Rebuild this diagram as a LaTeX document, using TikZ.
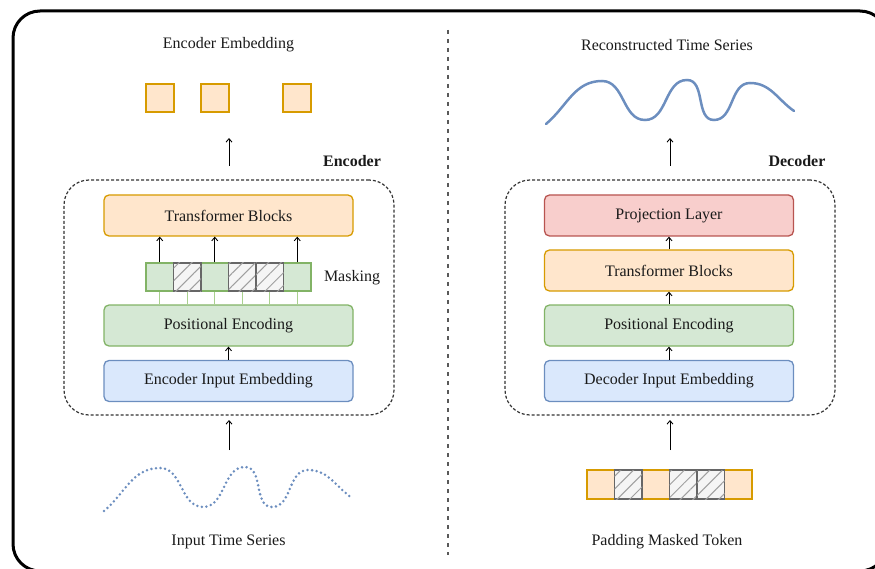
\documentclass[tikz,border=0pt]{standalone}
\usepackage{fontspec}
\setmainfont{Liberation Serif}
\usetikzlibrary{arrows.meta,patterns.meta}
\definecolor{orF}{HTML}{FFE6CC}\definecolor{orD}{HTML}{D79B00}
\definecolor{grF}{HTML}{D5E8D4}\definecolor{grD}{HTML}{82B366}
\definecolor{blF}{HTML}{DAE8FC}\definecolor{blD}{HTML}{6C8EBF}
\definecolor{rdF}{HTML}{F8CECC}\definecolor{rdD}{HTML}{B85450}
\definecolor{hcF}{HTML}{F5F5F5}\definecolor{hcD}{HTML}{666666}
\definecolor{txt}{HTML}{1A1A1A}
\definecolor{glight}{HTML}{A9D18E}
\begin{document}
\begin{tikzpicture}[x=1pt,y=1pt,
  every node/.append style={font=\fontsize{16}{19}\selectfont, text=txt},
  layerbox/.style={rounded corners=5pt, line width=1.3pt, minimum width=249pt, minimum height=41pt, inner sep=0pt},
  orbox/.style={layerbox, draw=orD, fill=orF},
  grbox/.style={layerbox, draw=grD, fill=grF},
  blbox/.style={layerbox, draw=blD, fill=blF},
  rdbox/.style={layerbox, draw=rdD, fill=rdF},
  cellbase/.style={minimum width=27.5pt, minimum height=28pt, inner sep=0pt, line width=1.3pt},
  gcell/.style={cellbase, draw=grD, fill=grF},
  ocell/.style={cellbase, draw=orD, fill=orF},
  hcell/.style={cellbase, draw=hcD, fill=hcF, postaction={pattern={Lines[angle=45,distance=9pt,line width=1pt]}, pattern color=gray!75}},
  sq/.style={draw=orD, fill=orF, line width=1.3pt, minimum width=28pt, minimum height=28pt, inner sep=0pt},
  groupbox/.style={draw=black!80, dash pattern=on 3pt off 2pt, line width=1.2pt, rounded corners=25pt, minimum width=330pt, minimum height=235pt, inner sep=0pt},
  arr/.style={draw=black, line width=0.9pt, -{Straight Barb[length=3.5pt,width=6pt]}},
  gline/.style={draw=glight, line width=1pt},
  title/.style={inner sep=0pt},
  wavesolid/.style={draw=blD, line width=2.5pt, line cap=round},
  wavedot/.style={draw=blD, line width=2.8pt, line cap=round, dash pattern=on 0pt off 4.6pt}
]
\useasboundingbox (0,0) rectangle (875,-569);
% outer frame
\draw[line width=3pt, rounded corners=27pt] (13,-11) rectangle (887,-571);
% divider
\draw[draw=black!65, line width=2pt, dash pattern=on 4pt off 5pt] (448,-30) -- (448,-555);

%%%%% ENCODER (left)
\node[title] (encemb) at (228.5,-45) {Encoder Embedding};
\node[sq] (s1) at (160,-98) {};
\node[sq] (s2) at (215,-98) {};
\node[sq] (s3) at (297,-98) {};
\node[groupbox] (encbox) at (229,-297.5) {};
\node[title, font=\fontsize{16}{19}\selectfont\bfseries] (enclbl) at (352,-161) {Encoder};
\node[orbox] (tbL) at (228.5,-215.5) {Transformer Blocks};
\node[grbox] (peL) at (228.5,-325.5) {Positional Encoding};
\node[blbox] (eieL) at (228.5,-381) {Encoder Input Embedding};
% masking strip
\node[gcell] (m1) at (159.75,-277) {};
\node[gcell] (m3) at (214.75,-277) {};
\node[gcell] (m6) at (297.25,-277) {};
\node[hcell] (m2) at (187.25,-277) {};
\node[hcell] (m4) at (242.25,-277) {};
\node[hcell] (m5) at (269.75,-277) {};
\node[title] (masklbl) at (352,-278) {Masking};
\foreach \c in {m1,m2,m3,m4,m5,m6}{\draw[gline] (\c.south) -- (\c.south |- peL.north);}
\foreach \c in {m1,m3,m6}{\draw[arr] (\c.north) -- (\c.north |- tbL.south);}
\draw[arr] (eieL.north) -- (peL.south);
\coordinate (encout) at (229,-166);
\coordinate (embin) at (229,-138);
\draw[arr] (encout) -- (embin);
\coordinate (tsout) at (229,-450);
\coordinate (encin) at (229,-420);
\draw[arr] (tsout) -- (encin);
\draw[wavedot] (104,-511) to[out=40,in=180] (160,-468) to[out=0,in=180] (203,-507) to[out=0,in=180] (245,-467) to[out=0,in=180] (272,-507) to[out=0,in=180] (308,-470) to[out=0,in=145] (352,-498);
\node[title] (inlbl) at (228.5,-542) {Input Time Series};

%%%%% DECODER (right)
\node[title] (reclbl) at (667,-45) {Reconstructed Time Series};
\begin{scope}[shift={(442,387)}]
\draw[wavesolid] (104,-511) to[out=40,in=180] (160,-468) to[out=0,in=180] (203,-507) to[out=0,in=180] (245,-467) to[out=0,in=180] (272,-507) to[out=0,in=180] (308,-470) to[out=0,in=145] (352,-498);
\end{scope}
\node[groupbox] (decbox) at (670,-297.5) {};
\node[title, font=\fontsize{16}{19}\selectfont\bfseries] (declbl) at (797,-161) {Decoder};
\node[rdbox] (plR) at (669,-215.5) {Projection Layer};
\node[orbox] (tbR) at (669,-270.5) {Transformer Blocks};
\node[grbox] (peR) at (669,-325.5) {Positional Encoding};
\node[blbox] (dieR) at (669,-381) {Decoder Input Embedding};
\draw[arr] (dieR.north) -- (peR.south);
\draw[arr] (peR.north) -- (tbR.south);
\draw[arr] (tbR.north) -- (plR.south);
\coordinate (decout) at (670,-166);
\coordinate (recin) at (670,-138);
\draw[arr] (decout) -- (recin);
\coordinate (padout) at (670,-450);
\coordinate (decin) at (670,-420);
\draw[arr] (padout) -- (decin);
% padding strip
\node[ocell, minimum height=29pt] (p1) at (600.75,-484.5) {};
\node[ocell, minimum height=29pt] (p3) at (655.75,-484.5) {};
\node[ocell, minimum height=29pt] (p6) at (738.25,-484.5) {};
\node[hcell, minimum height=29pt] (p2) at (628.25,-484.5) {};
\node[hcell, minimum height=29pt] (p4) at (683.25,-484.5) {};
\node[hcell, minimum height=29pt] (p5) at (710.75,-484.5) {};
\node[title] (padlbl) at (667,-542) {Padding Masked Token};
\end{tikzpicture}
\end{document}
